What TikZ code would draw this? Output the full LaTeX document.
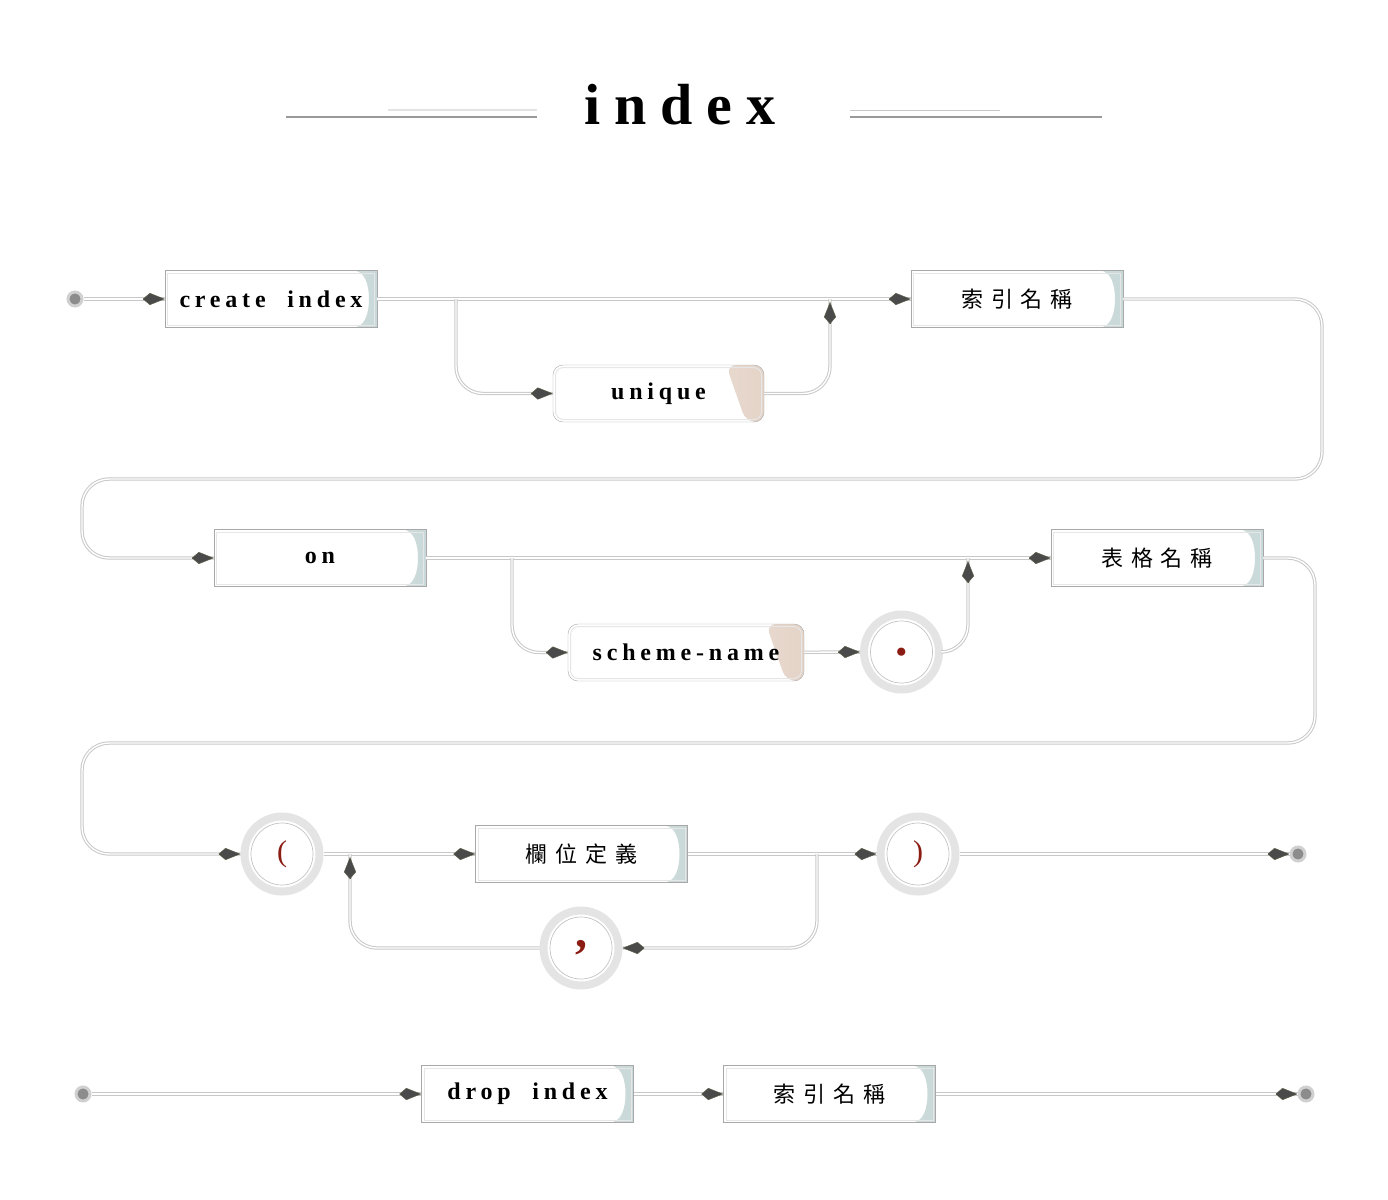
\documentclass[tikz,border=0pt]{standalone}
\usepackage{fontspec}
\usetikzlibrary{arrows.meta}
\setmainfont{Liberation Serif}
\newfontfamily\titlefont[LetterSpace=24]{Liberation Serif}
\newfontfamily\kwfont[LetterSpace=20]{Liberation Serif}
\newfontfamily\cjk[LetterSpace=36]{Noto Sans CJK TC}

\definecolor{lineg}{HTML}{C8C8C8}
\definecolor{boxline}{HTML}{A8A8A8}
\definecolor{boxinner}{HTML}{E6E6E6}
\definecolor{boxtint}{HTML}{C9D8D8}
\definecolor{wedge}{HTML}{E4D3C7}
\definecolor{ringg}{HTML}{E4E4E4}
\definecolor{innerc}{HTML}{C4C4C4}
\definecolor{redc}{HTML}{8B1C13}
\definecolor{tipfill}{HTML}{4A4A4A}
\definecolor{tipedge}{HTML}{5E5E48}
\definecolor{dotfill}{HTML}{8C8C8C}
\definecolor{dotring}{HTML}{D0D0D0}

\begin{document}
\begin{tikzpicture}[x=1pt, y=-1pt,
  conn/.style={draw=lineg, line width=1pt, double=white, double distance=1.4pt, rounded corners=27pt},
  tip/.style={line width=0.4pt, draw=tipfill, -{Kite[length=22pt, width=12pt, inset=7pt, fill=tipfill, color=tipedge]}},
  kw/.style={draw=boxline, fill=white, minimum width=212pt, minimum height=57pt, inner sep=0pt,
    font={\kwfont\bfseries\fontsize{24pt}{24pt}\selectfont},
    path picture={
      \fill[left color=boxtint!30, right color=boxtint]
        ([xshift=-24pt]path picture bounding box.north east)
        .. controls ([xshift=-12pt]path picture bounding box.north east) and ([xshift=-8pt, yshift=14pt]path picture bounding box.east) .. ([xshift=-8pt]path picture bounding box.east)
        .. controls ([xshift=-8pt, yshift=-14pt]path picture bounding box.east) and ([xshift=-12pt]path picture bounding box.south east) .. ([xshift=-24pt]path picture bounding box.south east)
        -- (path picture bounding box.south east) -- (path picture bounding box.north east) -- cycle;
      \draw[boxinner, line width=1pt] ([shift={(2.5pt,-2.5pt)}]path picture bounding box.north west) rectangle ([shift={(-2.5pt,2.5pt)}]path picture bounding box.south east);
    }},
  kwc/.style={kw, font={\cjk\fontsize{22pt}{22pt}\selectfont}},
  rkw/.style={draw=boxline, fill=white, rounded corners=10pt, minimum height=57pt, inner sep=0pt,
    font={\kwfont\bfseries\fontsize{24pt}{24pt}\selectfont},
    path picture={
      \fill[left color=wedge!25, right color=wedge]
        ([xshift=-38pt]path picture bounding box.north east) -- (path picture bounding box.north east)
        -- (path picture bounding box.south east) -- ([xshift=-18pt]path picture bounding box.south east) -- cycle;
      \draw[boxinner, line width=1pt, rounded corners=8pt] ([shift={(2.5pt,-2.5pt)}]path picture bounding box.north west) rectangle ([shift={(-2.5pt,2.5pt)}]path picture bounding box.south east);
    }},
  ring/.style={circle, minimum size=75pt, inner sep=0pt, draw=ringg, line width=8pt, fill=white, text=redc,
    path picture={\draw[innerc, line width=0.7pt] (path picture bounding box.center) circle (31pt);}},
  term/.style={circle, minimum size=14pt, inner sep=0pt, fill=dotfill, draw=dotring, line width=3pt}
]
  \useasboundingbox (0,0) rectangle (1388,1199);

  % Title
  \node (title) at (680,105) {\titlefont\bfseries\fontsize{58pt}{58pt}\selectfont index};
  \draw[color=black!40, line width=2.5pt] (286,117) -- (537,117);
  \draw[color=black!11, line width=2pt] (388,110) -- (537,110);
  \draw[color=black!22, line width=1pt] (850,110) -- (1000,110);
  \draw[color=black!40, line width=2.5pt] (850,117) -- (1102,117);

  % create index ... on
  \node[term] (s1) at (75,299) {};
  \node[kw] (ci) at (271,299) {create\ \ index};
  \node[kwc] (in1) at (1017,299) {索引名稱};
  \node[rkw, minimum width=211pt] (un) at (658.5,393.5) {unique};
  \coordinate (b1) at (456,299);
  \coordinate (j1) at (830,299);
  \coordinate (w1) at (1322,479);
  \coordinate (w2) at (82,558);

  % on ... table
  \node[kw] (on) at (320,558) {on};
  \node[kwc] (tb) at (1157,558) {表格名稱};
  \node[rkw, minimum width=236pt] (sn) at (686,652.5) {scheme-name};
  \node[ring, font={\bfseries\fontsize{50pt}{50pt}\selectfont}] (dot) at (901.5,652) {.};
  \coordinate (b2) at (512,558);
  \coordinate (j2) at (968,558);
  \coordinate (w3) at (1315,743);
  \coordinate (w4) at (82,854);

  % column list
  \node[ring, font={\fontsize{30pt}{30pt}\selectfont}] (lp) at (282,854) {(};
  \node[kwc] (cd) at (581.5,854) {欄位定義};
  \node[ring, font={\fontsize{30pt}{30pt}\selectfont}] (rp) at (918,854) {)};
  \node[term] (e1) at (1298,854) {};
  \node[ring, font={\bfseries\fontsize{48pt}{48pt}\selectfont}] (cm) at (581,948) {,};
  \coordinate (b3) at (817,854);
  \coordinate (j3) at (350,854);

  % drop index
  \node[term] (s2) at (83,1094) {};
  \node[kw] (dr) at (527.5,1094) {drop\ \ index};
  \node[kwc] (in2) at (829.5,1094) {索引名稱};
  \node[term] (e2) at (1306,1094) {};

  % Connectors
  \draw[conn] (s1) -- (ci);
  \draw[conn] (ci) -- (in1);
  \draw[conn] (b1) |- (un);
  \draw[conn] (un) -| (j1);
  \draw[conn] (in1) -| (w1) -| (w2) -- (on);
  \draw[conn] (on) -- (tb);
  \draw[conn] (b2) |- (sn);
  \draw[conn] (sn) -- (dot);
  \draw[conn] (dot) -| (j2);
  \draw[conn] (tb) -| (w3) -| (w4) -- (lp);
  \draw[conn] (lp) -- (cd);
  \draw[conn] (cd) -- (rp);
  \draw[conn] (rp) -- (e1);
  \draw[conn] (b3) |- (cm);
  \draw[conn] (cm) -| (j3);
  \draw[conn] (s2) -- (dr);
  \draw[conn] (dr) -- (in2);
  \draw[conn] (in2) -- (e2);

  % Arrow heads
  \draw[tip] ([xshift=-2pt]ci.west) -- (ci.west);
  \draw[tip] ([xshift=-2pt]in1.west) -- (in1.west);
  \draw[tip] ([xshift=-2pt]un.west) -- (un.west);
  \draw[tip] ([yshift=-5pt]j1) -- ([yshift=-3pt]j1);
  \draw[tip] ([xshift=-2pt]on.west) -- (on.west);
  \draw[tip] ([xshift=-2pt]tb.west) -- (tb.west);
  \draw[tip] ([xshift=-2pt]sn.west) -- (sn.west);
  \draw[tip] ([xshift=-2pt]dot.west) -- (dot.west);
  \draw[tip] ([yshift=-5pt]j2) -- ([yshift=-3pt]j2);
  \draw[tip] ([xshift=-2pt]lp.west) -- (lp.west);
  \draw[tip] ([xshift=-2pt]cd.west) -- (cd.west);
  \draw[tip] ([xshift=-2pt]rp.west) -- (rp.west);
  \draw[tip] ([xshift=-2pt]e1.west) -- (e1.west);
  \draw[tip] ([xshift=2pt]cm.east) -- (cm.east);
  \draw[tip] ([yshift=-5pt]j3) -- ([yshift=-3pt]j3);
  \draw[tip] ([xshift=-2pt]dr.west) -- (dr.west);
  \draw[tip] ([xshift=-2pt]in2.west) -- (in2.west);
  \draw[tip] ([xshift=-2pt]e2.west) -- (e2.west);
\end{tikzpicture}
\end{document}
